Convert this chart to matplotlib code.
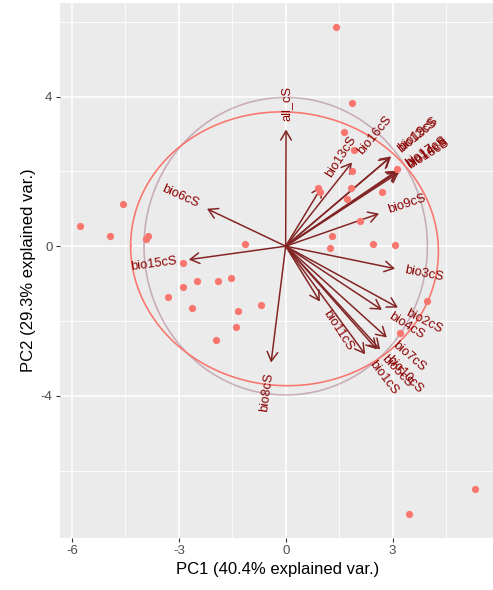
import numpy as np
import matplotlib
matplotlib.use("Agg")
import matplotlib.pyplot as plt
import matplotlib.transforms as mtransforms

# PCA scores (PC1, PC2) for each sample
pc1 = [1.41, 1.86, 1.64, 1.92, 1.86, 3.12, 0.91, 0.96, 1.83, 2.70,
       1.72, 2.08, 1.30, 1.24, 2.45, 3.07, 3.97, 3.21, 3.46, 5.32,
       -4.57, -5.78, -4.93, -3.92, -3.87, -1.14, -2.89, -2.49, -1.90, -1.54,
       -2.89, -3.31, -2.63, -1.34, -0.69, -1.40, -1.97]
pc2 = [5.85, 3.84, 3.04, 2.58, 2.00, 2.05, 1.56, 1.46, 1.56, 1.46,
       1.27, 0.66, 0.26, -0.04, 0.05, 0.02, -1.46, -2.32, -7.15, -6.48,
       1.14, 0.55, 0.26, 0.20, 0.26, 0.07, -0.44, -0.92, -0.92, -0.86,
       -1.10, -1.37, -1.66, -1.72, -1.58, -2.17, -2.52]

# variable loadings (arrow tips)
var_names = ["all_cS", "bio8cS", "bio6cS", "bio15cS", "bio3cS", "bio9cS",
             "bio13cS", "bio16cS", "bio12cS", "bio19cS", "bio14cS", "bio17cS",
             "bio18cS", "bio2cS", "bio4cS", "bio7cS", "bio11cS", "bio1cS",
             "bio5cS", "bio10cS"]
var_x = [0.01, -0.41, -2.21, -2.72, 3.07, 2.62, 1.02, 1.86, 2.93, 2.96,
         3.15, 3.13, 3.18, 3.15, 2.70, 2.84, 0.96, 2.23, 2.56, 2.65]
var_y = [3.12, -3.11, 1.00, -0.36, -0.60, 0.87, 1.60, 2.24, 2.37, 2.40,
         2.00, 2.02, 1.97, -1.64, -1.70, -2.44, -1.48, -2.89, -2.76, -2.76]

x_title = "PC1 (40.4% explained var.)"
y_title = "PC2 (29.3% explained var.)"

S = 1.09  # pt scale for this output size
FONT = ["Liberation Sans", "DejaVu Sans"]
plt.rcParams["font.family"] = FONT
plt.rcParams["axes.unicode_minus"] = False

fig = plt.figure(figsize=(4.93, 5.90), dpi=100)
ax = fig.add_axes([60 / 493, 52 / 590, 435 / 493, 535 / 590])
ax.set_facecolor("#EBEBEB")
for s in ax.spines.values():
    s.set_visible(False)

x = np.array(pc1)
y = np.array(pc2)
vx = np.array(var_x)
vy = np.array(var_y)

# limits with 5% expansion of the score range
xr = x.max() - x.min()
yr = y.max() - y.min()
ax.set_xlim(x.min() - 0.05 * xr, x.max() + 0.05 * xr)
ax.set_ylim(y.min() - 0.05 * yr, y.max() + 0.05 * yr)

ax.set_xticks([-6, -3, 0, 3])
ax.set_yticks([-4, 0, 4])
ax.set_xticks([-4.5, -1.5, 1.5, 4.5], minor=True)
ax.set_yticks([-6, -2, 2, 6], minor=True)
ax.grid(True, which="major", color="white", lw=1.07 * S)
ax.grid(True, which="minor", color="white", lw=0.53 * S)
ax.set_axisbelow(True)
ax.tick_params(which="major", length=2.75 * S, width=0.8, color="#333333",
               labelsize=8.8 * S, labelcolor="#4D4D4D", pad=2.2 * S)
ax.tick_params(which="minor", length=0)
ax.set_xlabel(x_title, fontsize=11 * S, labelpad=2.75 * S)
ax.set_ylabel(y_title, fontsize=11 * S, labelpad=2.75 * S)

# correlation circle
theta = np.linspace(-np.pi, np.pi, 200)
u2 = np.mean(x ** 2) * np.mean(y ** 2)
r = np.sqrt(-2 * np.log(1 - 0.69)) * u2 ** 0.25
ax.plot(r * np.cos(theta), r * np.sin(theta), color="#7F2F4F", alpha=1 / 3,
        lw=1.07 * S, zorder=2)

# loading arrows
for ex, ey in zip(vx, vy):
    ax.annotate("", xy=(ex, ey), xytext=(0, 0),
                arrowprops=dict(arrowstyle="->,head_length=0.6,head_width=0.35",
                                color="#832424", lw=1.0 * S, shrinkA=0, shrinkB=0,
                                mutation_scale=10 * S),
                zorder=3)

ax.scatter(x, y, s=27, color="#F8766D", linewidths=0, zorder=4)

# 68% normal concentration ellipse
cov = np.cov(np.vstack([x, y]))
L = np.linalg.cholesky(cov)
ed = np.sqrt(-2 * np.log(1 - 0.68))
circ = np.column_stack([np.cos(theta), np.sin(theta)])
ell = circ @ L.T * ed + np.array([x.mean(), y.mean()])
ax.plot(ell[:, 0], ell[:, 1], color="#F8766D", lw=1.07 * S, zorder=5)

# variable names at arrow tips
fig.canvas.draw()
renderer = fig.canvas.get_renderer()
label_size = 3 * 2.845 * S
for name, ex, ey in zip(var_names, vx, vy):
    angle = np.degrees(np.arctan(ey / ex))
    probe = ax.text(0, 0, name, fontsize=label_size)
    w = probe.get_window_extent(renderer).width
    probe.remove()
    side = 1 if ex > 0 else -1
    dx = side * 0.25 * w * np.cos(np.radians(angle))
    dy = side * 0.25 * w * np.sin(np.radians(angle))
    tr = mtransforms.offset_copy(ax.transData, fig=fig, x=dx, y=dy, units="dots")
    ax.text(ex, ey, name, rotation=angle, rotation_mode="anchor",
            ha="left" if side > 0 else "right", va="center",
            fontsize=label_size, color="#8B0000", transform=tr, zorder=6)

fig.savefig("out.png", dpi=100)
